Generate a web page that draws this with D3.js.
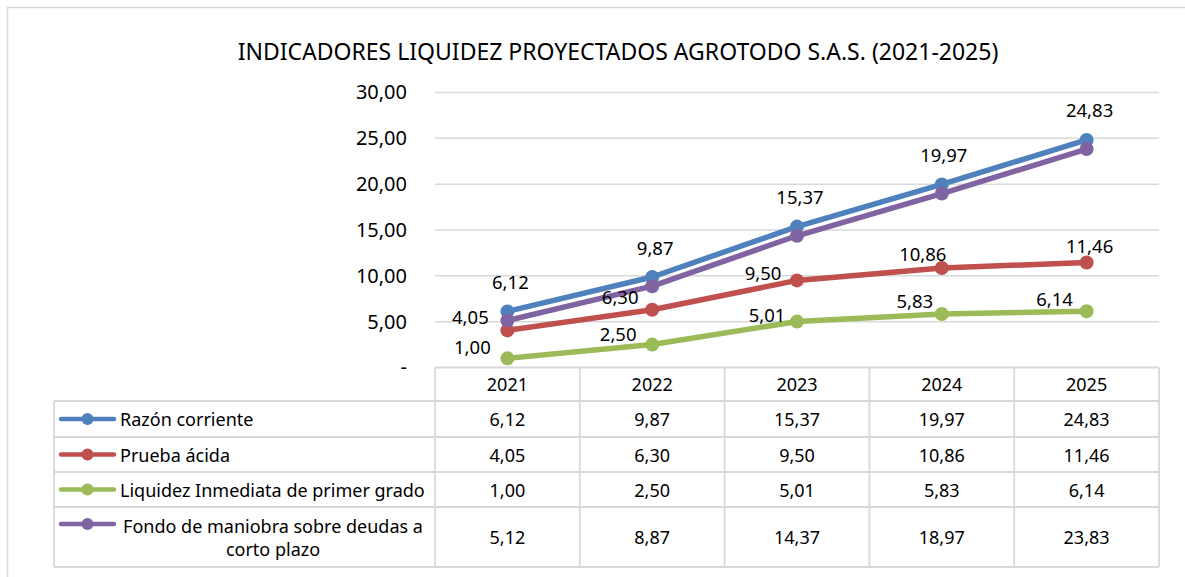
<!DOCTYPE html>
<html>
<head>
<meta charset="utf-8">
<script src="https://cdn.jsdelivr.net/npm/d3@7"></script>
<style>
  body { margin: 0; background: #fff; }
  svg { display: block; font-family: "Noto Sans", "Open Sans", sans-serif; }
</style>
</head>
<body>
<svg id="chart" width="1185" height="577"></svg>
<script>
// Data
const years = ["2021", "2022", "2023", "2024", "2025"];
const razonCorriente = [6.12, 9.87, 15.37, 19.97, 24.83];
const pruebaAcida = [4.05, 6.30, 9.50, 10.86, 11.46];
const liquidezInmediata = [1.00, 2.50, 5.01, 5.83, 6.14];
const fondoManiobra = [5.12, 8.87, 14.37, 18.97, 23.83];
const yTicks = [0, 5, 10, 15, 20, 25, 30];

const series = [
    { name: ["Razón corriente"], values: razonCorriente, color: "#4F81BD" },
    { name: ["Prueba ácida"], values: pruebaAcida, color: "#C0504D" },
    { name: ["Liquidez Inmediata de primer grado"], values: liquidezInmediata, color: "#9BBB59" },
    { name: ["Fondo de maniobra sobre deudas a", "corto plazo"], values: fondoManiobra, color: "#8064A2" }
];

// label placement (Excel labels were nudged by hand), null = no labels
const labelOffsets = [
    [[3, -30], [3, -30], [3, -30], [2, -30], [3, -30]],
    [[-37, -14], [-32, -13], [-34, -8], [-19, -14], [3, -17]],
    [[-35, -12], [-34, -11], [-30, -7], [-27, -14], [-32, -13]],
    null
];

const svg = d3.select("#chart");
const fmt = v => v === 0 ? "-" : d3.format(".2f")(v).replace(".", ",");

const plot = { left: 435, right: 1159, top: 92.5, bottom: 367.5 };
const table = { left: 54, rows: [401, 437, 472, 507, 567] };
const grid = "#d9d9d9";

// chart frame
svg.append("rect")
    .attr("x", 7.5).attr("y", 7.5)
    .attr("width", 1200).attr("height", 600)
    .attr("fill", "none").attr("stroke", grid).attr("stroke-width", 1.5);

// title
svg.append("text")
    .attr("x", 618).attr("y", 51)
    .attr("text-anchor", "middle")
    .attr("dominant-baseline", "central")
    .style("font-size", "23px")
    .attr("fill", "#000")
    .text("INDICADORES LIQUIDEZ PROYECTADOS AGROTODO S.A.S. (2021-2025)");

const x = d3.scaleBand().domain(years).range([plot.left, plot.right]).padding(0);
const y = d3.scaleLinear().domain([0, 30]).range([plot.bottom, plot.top]);
const cx = d => x(d) + x.bandwidth() / 2;

// gridlines
svg.append("g")
    .selectAll("line")
    .data(yTicks.filter(t => t > 0))
    .join("line")
    .attr("x1", plot.left).attr("x2", plot.right)
    .attr("y1", d => y(d)).attr("y2", d => y(d))
    .attr("stroke", grid).attr("stroke-width", 1.5);

// y axis labels
const yAxis = svg.append("g")
    .attr("transform", `translate(${plot.left - 28},0)`)
    .call(d3.axisLeft(y).tickValues(yTicks).tickFormat(fmt).tickSize(0).tickPadding(0));
yAxis.select(".domain").remove();
yAxis.selectAll("text")
    .style("font-size", "20px")
    .style("font-family", "'Noto Sans', sans-serif")
    .attr("fill", "#000");

// lines and markers
const line = d3.line().x((d, i) => cx(years[i])).y(d => y(d));

series.forEach((s, si) => {
    const g = svg.append("g");
    g.append("path")
        .datum(s.values)
        .attr("d", line)
        .attr("fill", "none")
        .attr("stroke", s.color)
        .attr("stroke-width", 5.5)
        .attr("stroke-linejoin", "round");
    g.selectAll("circle")
        .data(s.values)
        .join("circle")
        .attr("cx", (d, i) => cx(years[i]))
        .attr("cy", d => y(d))
        .attr("r", 7)
        .attr("fill", s.color);
});

// data labels
series.forEach((s, si) => {
    if (!labelOffsets[si]) return;
    svg.append("g")
        .selectAll("text")
        .data(s.values)
        .join("text")
        .attr("x", (d, i) => cx(years[i]) + labelOffsets[si][i][0])
        .attr("y", (d, i) => y(d) + labelOffsets[si][i][1])
        .attr("text-anchor", "middle")
        .attr("dominant-baseline", "central")
        .style("font-size", "18.5px")
        .attr("fill", "#000")
        .text(fmt);
});

// data table
const tg = svg.append("g").attr("stroke", grid).attr("stroke-width", 1.8);
// header row
tg.append("line").attr("x1", plot.left).attr("x2", plot.right).attr("y1", plot.bottom).attr("y2", plot.bottom);
table.rows.forEach(r => {
    tg.append("line").attr("x1", table.left).attr("x2", plot.right).attr("y1", r).attr("y2", r);
});
tg.append("line").attr("x1", table.left).attr("x2", table.left)
    .attr("y1", table.rows[0]).attr("y2", table.rows[table.rows.length - 1]);
years.concat([null]).forEach((yr, i) => {
    const xx = yr ? x(yr) : plot.right;
    tg.append("line").attr("x1", xx).attr("x2", xx)
        .attr("y1", plot.bottom).attr("y2", table.rows[table.rows.length - 1]);
});

const cellText = svg.append("g")
    .style("font-size", "18px")
    .attr("fill", "#000")
    .attr("text-anchor", "middle")
    .attr("dominant-baseline", "central");

cellText.selectAll(".yr")
    .data(years)
    .join("text")
    .attr("class", "yr")
    .attr("x", d => cx(d))
    .attr("y", (plot.bottom + table.rows[0]) / 2)
    .text(d => d);

series.forEach((s, si) => {
    const rowMid = (table.rows[si] + table.rows[si + 1]) / 2;
    cellText.append("g")
        .selectAll("text")
        .data(s.values)
        .join("text")
        .attr("x", (d, i) => cx(years[i]))
        .attr("y", rowMid)
        .text(fmt);

    // legend key
    const keyY = s.name.length > 1 ? table.rows[si] + 17 : rowMid;
    svg.append("line")
        .attr("x1", 61).attr("x2", 114)
        .attr("y1", keyY).attr("y2", keyY)
        .attr("stroke", s.color).attr("stroke-width", 4.5)
        .attr("stroke-linecap", "round");
    svg.append("circle")
        .attr("cx", 87.5).attr("cy", keyY).attr("r", 6)
        .attr("fill", s.color);

    const label = svg.append("text")
        .style("font-size", "18px")
        .attr("fill", "#000")
        .attr("dominant-baseline", "central");
    if (s.name.length === 1) {
        label.attr("x", 120).attr("y", rowMid).text(s.name[0]);
    } else {
        label.attr("text-anchor", "middle");
        s.name.forEach((t, k) => {
            label.append("tspan")
                .attr("x", 273)
                .attr("y", table.rows[si] + 19 + k * 23)
                .text(t);
        });
    }
});
</script>
</body>
</html>
